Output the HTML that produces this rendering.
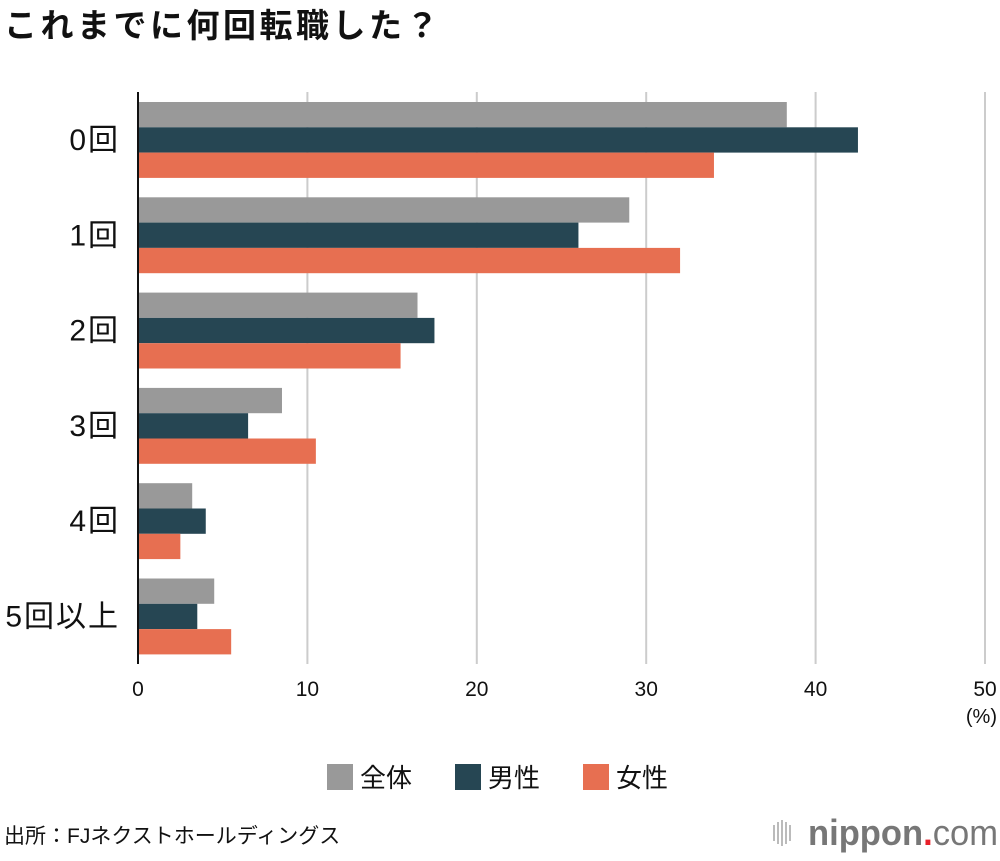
<!DOCTYPE html>
<html><head><meta charset="utf-8"><style>
body{margin:0;width:1000px;height:856px;background:#fff;overflow:hidden;font-family:"Liberation Sans","Noto Sans CJK JP",sans-serif;}
</style></head><body>
<svg width="1000" height="856" xmlns="http://www.w3.org/2000/svg" font-family="Liberation Sans, Noto Sans CJK JP, sans-serif">
<text x="4" y="37" font-size="33" letter-spacing="3.5" font-weight="bold" fill="#111">これまでに何回転職した？</text>
<g id="grid"></g><g id="bars"></g><g id="ylabels"></g><g id="xticks"></g>
<text x="997" y="723" font-size="20" text-anchor="end" fill="#111">(%)</text>
<g>
<g><rect x="327" y="764" width="26" height="26" fill="#999"/><text x="360" y="787" font-size="26" fill="#111">全体</text></g>
<g><rect x="455" y="764" width="26" height="26" fill="#264653"/><text x="488" y="787" font-size="26" fill="#111">男性</text></g>
<g><rect x="583" y="764" width="26" height="26" fill="#e76f51"/><text x="616" y="787" font-size="26" fill="#111">女性</text></g>
</g>
<text x="4" y="843" font-size="21" fill="#111">出所：FJネクストホールディングス</text>
<g>
<g fill="#bbb"><rect x="773" y="825" width="2" height="16"/><rect x="777" y="822" width="2" height="22"/><rect x="781" y="820" width="2" height="26"/><rect x="785" y="822" width="2" height="22"/><rect x="789" y="825" width="2" height="16"/></g>
<text x="808" y="845" font-size="36" font-weight="bold" fill="#777" textLength="190" lengthAdjust="spacingAndGlyphs">nippon<tspan fill="#e8202a">.</tspan><tspan font-weight="normal">com</tspan></text>
</g>
</svg>
<script>
const categories=["0回","1回","2回","3回","4回","5回以上"];
const allValues=[38.3,29.0,16.5,8.5,3.2,4.5];
const maleValues=[42.5,26.0,17.5,6.5,4.0,3.5];
const femaleValues=[34.0,32.0,15.5,10.5,2.5,5.5];
const xTicks=[0,10,20,30,40,50];
const NS="http://www.w3.org/2000/svg";
const x0=138,x1=985,xmax=50;
const xs=v=>x0+(x1-x0)*v/xmax;
const gy=i=>102+i*95.3;
function mk(t,a,p){const e=document.createElementNS(NS,t);for(const k in a)e.setAttribute(k,a[k]);p.appendChild(e);return e;}
const grid=document.getElementById('grid'),bars=document.getElementById('bars'),yl=document.getElementById('ylabels'),xt=document.getElementById('xticks');
xTicks.forEach(t=>{
 if(t>0){const l=mk('line',{x1:xs(t),x2:xs(t),y1:92,y2:664,stroke:'#ccc','stroke-width':2},grid);
 
 }
 const tx=mk('text',{x:xs(t),y:696,'font-size':21,'text-anchor':'middle',fill:'#111'},xt);tx.textContent=t;
 
 
});
const series=[[allValues,'#999','all'],[maleValues,'#264653','male'],[femaleValues,'#e76f51','female']];
categories.forEach((c,i)=>{
 series.forEach((s,j)=>{
  const r=mk('rect',{x:x0,y:gy(i)+j*25.3,width:xs(s[0][i])-x0,height:25.3,fill:s[1]},bars);
  
  
 });
 const t=mk('text',{x:120,y:gy(i)+48,'font-size':30,'letter-spacing':2,'text-anchor':'end',fill:'#111'},yl);t.textContent=c;
 
 
});
const ax=mk('line',{x1:x0,x2:x0,y1:92,y2:664,stroke:'#111','stroke-width':2},bars);


</script>
</body></html>
